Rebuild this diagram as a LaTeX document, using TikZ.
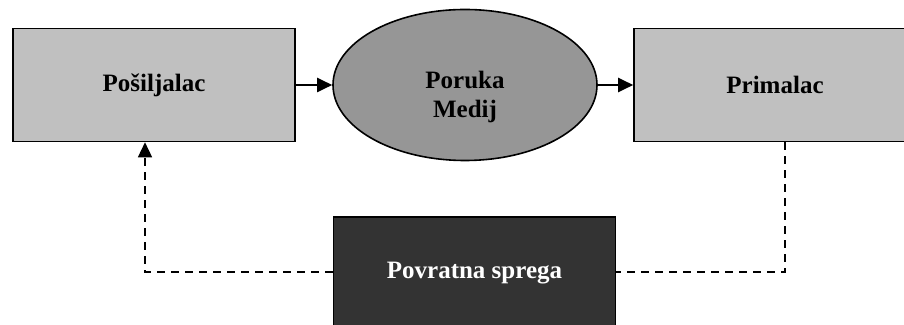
\documentclass[tikz,border=0pt]{standalone}
\usepackage{fontspec}
\setmainfont{Liberation Serif}
\usetikzlibrary{arrows.meta,shapes.geometric}
\definecolor{lightbox}{HTML}{C0C0C0}
\definecolor{midell}{HTML}{969696}
\definecolor{darkbox}{HTML}{333333}
\begin{document}
\begin{tikzpicture}[x=0.5pt,y=-0.5pt,
  boxstyle/.style={draw=black,line width=0.8pt,rectangle,minimum width=141pt,minimum height=56.5pt,inner sep=0pt,font=\fontsize{12.5}{14.5}\selectfont\bfseries},
  ellstyle/.style={draw=black,line width=0.8pt,ellipse,fill=midell,minimum width=132pt,minimum height=75.5pt,inner sep=0pt},
  txtstyle/.style={align=center,inner sep=0pt,font=\fontsize{12.5}{14.5}\selectfont\bfseries},
  tipstyle/.style={-{Triangle[length=7.5pt,width=7pt]}},
  solidarrow/.style={line width=1pt,tipstyle},
  dashline/.style={line width=0.75pt,dash pattern=on 4pt off 3pt}]
\path[use as bounding box] (0,0) rectangle (904,325);
\clip (0,0) rectangle (904,325);
\node[boxstyle,fill=lightbox] (posiljalac) at (154,85) {Pošiljalac};
\node[ellstyle] (medij) at (465,85) {};
\node[txtstyle] (medijtxt) at (465,97) {Poruka\\Medij};
\node[boxstyle,fill=lightbox] (primalac) at (775,85) {Primalac};
\node[boxstyle,fill=darkbox,text=white] (sprega) at (474.5,273.5) {Povratna sprega};
\coordinate (lc) at (145,272);
\coordinate (rc) at (785,272);
\draw[solidarrow] (posiljalac.east) -- (medij.west);
\draw[solidarrow] (medij.east) -- (primalac.west);
\draw[dashline] (primalac.south -| rc) -- (rc) -- (sprega.east |- rc);
\draw[dashline,tipstyle] (sprega.west |- lc) -- (lc) -- (posiljalac.south -| lc);
\end{tikzpicture}
\end{document}
